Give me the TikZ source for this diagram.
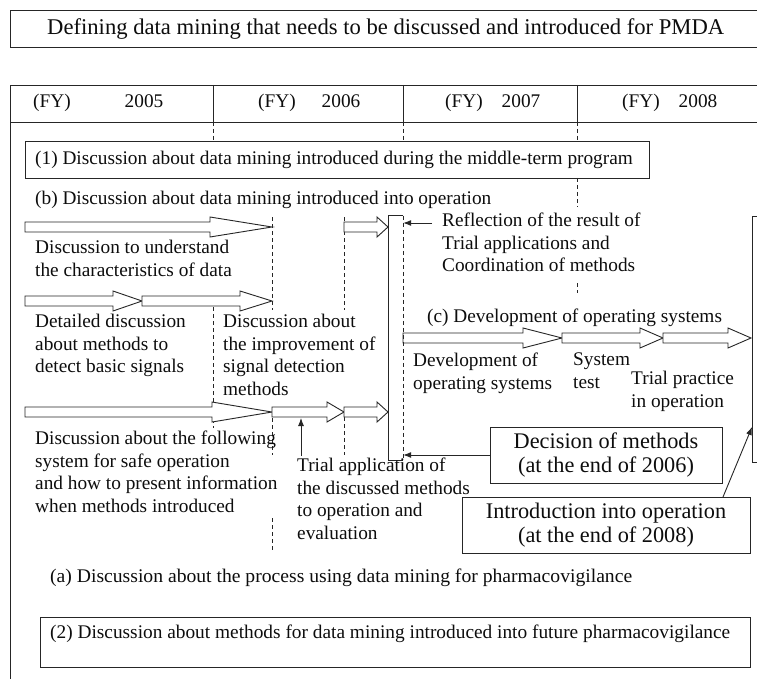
\documentclass[tikz,border=0pt]{standalone}
\usepackage{fontspec}
\setmainfont{Liberation Serif}
\usepackage{graphicx}
\usetikzlibrary{arrows.meta}
\definecolor{lc}{gray}{0.15}
\definecolor{tc}{gray}{0.05}
\newcommand{\bodyfont}{\fontsize{19.3}{22.5}\selectfont}
\newcommand{\bigfont}{\fontsize{22.3}{24.5}\selectfont}
\newcommand{\titlefont}{\fontsize{22.5}{24}\selectfont}
\newcommand{\barrow}[4]{%
  \draw[blk] (#1,#4-5) -- (#2,#4-5) -- (#2,#4-10) -- (#3,#4) -- (#2,#4+10) -- (#2,#4+5) -- (#1,#4+5) -- cycle;}
\tikzset{
  ln/.style={draw=lc, line width=0.9pt},
  blk/.style={draw=lc, fill=white, line width=0.9pt, line join=miter},
  dsh/.style={draw=lc, line width=0.7pt, dash pattern=on 4pt off 3pt},
  arr/.style={draw=lc, line width=0.9pt, -{Latex[length=8pt,width=6pt]}},
  one/.style={anchor=west, inner sep=0pt, font=\bodyfont, text=tc},
  multi/.style={anchor=north west, inner sep=0pt, align=left, font=\bodyfont, text=tc},
  bigbox/.style={draw=lc, line width=0.9pt, fill=white, align=center, font=\bigfont, text=tc, inner sep=0pt},
}
\begin{document}
\begin{tikzpicture}[x=1pt,y=-1pt]
\useasboundingbox[fill=white] (0,0) rectangle (757,679);

% title
\draw[ln] (757,10) -- (10,10) -- (10,47) -- (757,47);
\node[anchor=west, inner sep=0pt, font=\titlefont, text=tc] (title) at (47,29)
  {\resizebox{677pt}{\height}{Defining data mining that needs to be discussed and introduced for PMDA}};

% main frame and header
\draw[ln] (757,85) -- (10,85) -- (10,679);
\draw[ln] (10,122) -- (757,122);
\draw[ln] (213,85) -- (213,122);
\draw[ln] (403,85) -- (403,122);
\draw[ln] (577,85) -- (577,122);
\node[one] (y5) at (33,103) {(FY)\hspace{54pt}2005};
\node[one] (y6) at (258,103) {(FY)\hspace{26pt}2006};
\node[one] (y7) at (445,103) {(FY)\hspace{19pt}2007};
\node[one] (y8) at (622,103) {(FY)\hspace{19pt}2008};

% dashed year dividers
\draw[dsh] (213,122) -- (213,141);
\draw[dsh] (403,122) -- (403,141);
\draw[dsh] (577,122) -- (577,141);
\draw[dsh] (577,178) -- (577,207);
\draw[dsh] (577,283) -- (577,293);
\draw[dsh] (213,307) -- (213,428);
\draw[dsh] (272,217) -- (272,310);
\draw[dsh] (272,418) -- (272,455);
\draw[dsh] (272,518) -- (272,552);
\draw[dsh] (344,217) -- (344,310);
\draw[dsh] (344,417) -- (344,455);

% box (1)
\draw[ln] (25,141) rectangle (649,178);
\node[one] (p1) at (35,160) {(1) Discussion about data mining introduced during the middle-term program};
\node[one] (pb) at (35,200) {(b) Discussion about data mining introduced into operation};

% block arrows
\barrow{25}{210}{272}{227}
\barrow{344}{377}{388}{227}
\barrow{25}{113}{142}{301}
\barrow{142}{240}{272}{301}
\barrow{25}{212}{272}{412}
\barrow{272}{327}{344}{412}
\barrow{344}{377}{388}{412}
\barrow{403}{523}{562}{338}
\barrow{562}{640}{663}{338}
\barrow{663}{728}{751}{338}

% vertical bar
\node[minimum width=14pt, minimum height=244pt, inner sep=0pt] (bar) at (396,338) {};
\draw[ln] (bar.north east) -- (bar.north west) -- (bar.south west) -- (bar.south east);
\draw[dsh] (bar.north east) -- (bar.south east);

% right box (cut by edge)
\draw[ln] (757,216) -- (752,216) -- (752,462) -- (757,462);
\coordinate (rb) at (752,427);

% texts
\node[multi] (t1) at (35,240) {Discussion to understand\\the characteristics of data};
\node[multi] (t2) at (35,314) {Detailed discussion\\about methods to\\detect basic signals};
\node[multi] (t3) at (223,314) {Discussion about\\the improvement of\\signal detection\\methods};
\node[multi] (t4) at (35,431) {Discussion about the following\\system for safe operation\\and how to present information\\when methods introduced};
\node[multi] (t5) at (297,458) {Trial application of\\the discussed methods\\to operation and\\evaluation};
\node[multi] (t6) at (442,213) {Reflection of the result of\\Trial applications and\\Coordination of methods};
\node[one] (pc) at (427,318) {(c) Development of operating systems};
\node[multi] (t7) at (413,353) {Development of\\operating systems};
\node[multi] (t8) at (573,353) {System\\test};
\node[multi] (t9) at (631,371) {Trial practice\\in operation};

% decision and introduction boxes
\node[bigbox, minimum width=232pt, minimum height=56pt] (dec) at (606,455) {Decision of methods\\(at the end of 2006)};
\node[bigbox, minimum width=288pt, minimum height=56pt] (intro) at (606,525) {Introduction into operation\\(at the end of 2008)};

% thin arrows
\coordinate (rs) at (432,223);
\draw[arr] (rs) -- (rs -| bar.east);
\draw[arr] (dec.west) -- (dec.west -| bar.east);
\coordinate (us) at (301,456);
\coordinate (ue) at (301,418);
\draw[arr] (us) -- (ue);
\coordinate (is) at (723,497);
\draw[arr] (is) -- (rb);

% (a) and box (2)
\node[one] (pa) at (50,578) {\resizebox{582pt}{\height}{(a) Discussion about the process using data mining for pharmacovigilance}};
\draw[ln] (40,617) rectangle (750,667);
\node[one] (p2) at (50,634) {\resizebox{680pt}{\height}{(2) Discussion about methods for data mining introduced into future pharmacovigilance}};
\end{tikzpicture}
\end{document}
